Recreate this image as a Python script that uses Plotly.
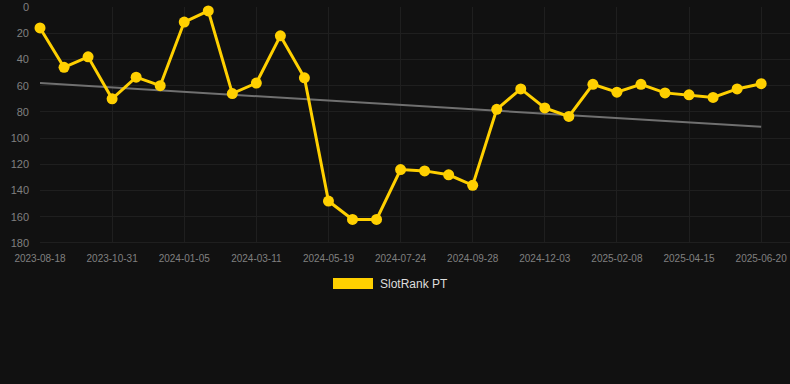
import plotly.graph_objects as go

# Data (rank, lower is better)
point_index = list(range(31))
rank_values = [16, 46, 38, 70, 53.5, 60, 11.5, 3, 66, 58, 22, 54,
               148, 162, 162, 124, 125, 128, 136,
               78, 62.5, 77, 83.5, 59, 65, 59, 65.5, 67, 69, 62.5, 58.5]
tick_positions = [0, 3, 6, 9, 12, 15, 18, 21, 24, 27, 30]
tick_labels = ["2023-08-18", "2023-10-31", "2024-01-05", "2024-03-11", "2024-05-19",
               "2024-07-24", "2024-09-28", "2024-12-03", "2025-02-08", "2025-04-15",
               "2025-06-20"]
trend_x = [0, 30]
trend_y = [58, 91.4]
series_name = "SlotRank PT"

GOLD = "#FFD000"
BG = "#111111"

fig = go.Figure()
fig.add_trace(go.Scatter(
    x=trend_x, y=trend_y, mode="lines",
    line=dict(color="#707070", width=2),
    hoverinfo="skip", showlegend=False, cliponaxis=False,
))
fig.add_trace(go.Scatter(
    x=point_index, y=rank_values, mode="lines+markers",
    name=series_name,
    line=dict(color=GOLD, width=3),
    marker=dict(color=GOLD, size=11),
    showlegend=False, cliponaxis=False,
))

# manual legend (filled rectangle + label)
fig.add_shape(type="rect", xref="paper", yref="paper",
              x0=(333 - 40) / 750, x1=(373 - 40) / 750,
              y0=(384 - 141 - 289) / 236.5, y1=(384 - 141 - 278) / 236.5,
              fillcolor=GOLD, line=dict(width=0))
fig.add_annotation(xref="paper", yref="paper", x=(378 - 40) / 750,
                   y=(384 - 141 - 284) / 236.5, text=series_name,
                   showarrow=False, xanchor="left", yanchor="middle",
                   font=dict(family="Liberation Sans, Arial", size=12, color="#dddddd"))

fig.update_layout(
    width=790, height=384,
    margin=dict(l=40, r=0, t=7, b=141),
    paper_bgcolor=BG, plot_bgcolor=BG,
    font=dict(family="Liberation Sans, Arial", color="#888888"),
    showlegend=False,
)
fig.update_xaxes(
    range=[0, 31.2], tickmode="array", tickvals=tick_positions, ticktext=tick_labels,
    showgrid=True, gridcolor="#1f1f1f", gridwidth=1, zeroline=False,
    showline=False, ticks="", ticklabelstandoff=8,
    tickfont=dict(size=10, color="#808080"),
)
fig.update_yaxes(
    range=[180, 0], tickmode="array", tickvals=list(range(0, 181, 20)),
    showgrid=True, gridcolor="#1f1f1f", gridwidth=1, zeroline=False,
    showline=False, ticks="", ticklabelstandoff=10,
    tickfont=dict(size=11, color="#808080"),
)
fig.add_shape(type="line", xref="paper", yref="y", x0=0, x1=1, y0=180, y1=180,
              line=dict(color="#2e2e2e", width=1), layer="below")

fig.write_html(
    "out.html",
    config={"displayModeBar": False},
    post_script="document.body.style.margin='0';document.body.style.background='#111111';",
)
